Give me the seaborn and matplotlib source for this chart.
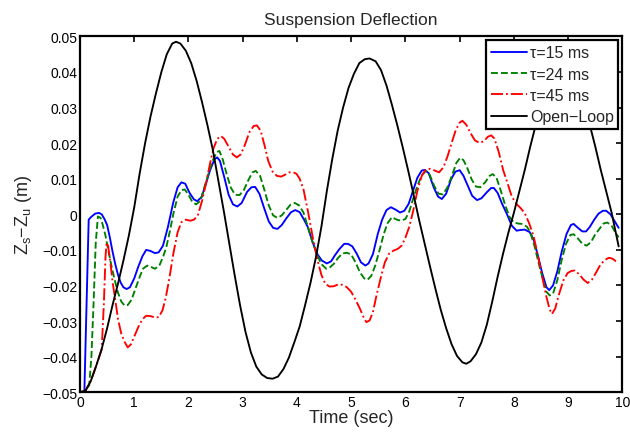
import numpy as np
import pandas as pd
import matplotlib
matplotlib.use('Agg')
import matplotlib.pyplot as plt
import seaborn as sns

# ---- data (deflection in mm, time in sec) ----
t_open = [0.00, 0.10, 0.20, 0.30, 0.40, 0.50, 0.60, 0.70, 0.80, 0.90, 1.00, 1.10, 1.20, 1.30, 1.40,
          1.50, 1.60, 1.70, 1.77, 1.85, 1.95, 2.05, 2.15, 2.25, 2.35, 2.45, 2.55, 2.65, 2.75, 2.85,
          2.95, 3.05, 3.15, 3.25, 3.35, 3.45, 3.55, 3.65, 3.75, 3.85, 3.95, 4.05, 4.15, 4.25, 4.35,
          4.45, 4.55, 4.65, 4.75, 4.85, 4.95, 5.05, 5.15, 5.25, 5.34, 5.45, 5.55, 5.65, 5.75, 5.85,
          5.95, 6.05, 6.15, 6.25, 6.35, 6.45, 6.55, 6.65, 6.75, 6.85, 6.95, 7.05, 7.12, 7.20, 7.30,
          7.40, 7.50, 7.60, 7.70, 7.80, 7.90, 8.00, 8.10, 8.20, 8.30, 8.40, 8.50, 8.60, 8.70, 8.80,
          8.90, 9.00, 9.10, 9.20, 9.30, 9.40, 9.50, 9.60, 9.70, 9.80, 9.93]
z_open = [-50.0, -49.6, -46.8, -42.5, -37.8, -32.0, -25.5, -19.5, -13.0, -6.0, 2.0, 11.5, 20.0, 27.5, 34.0,
          40.0, 45.0, 48.0, 48.5, 48.0, 46.0, 42.5, 37.5, 31.5, 25.0, 18.0, 9.5, 1.0, -8.0, -17.0,
          -25.5, -33.0, -38.8, -42.8, -45.0, -46.0, -46.2, -45.6, -43.5, -40.3, -36.0, -31.5, -25.5, -19.2, -12.0,
          -3.5, 6.5, 15.5, 23.5, 30.0, 35.5, 39.5, 42.5, 43.6, 43.8, 43.0, 40.5, 36.2, 30.8, 25.0,
          18.8, 12.3, 5.5, -1.5, -8.0, -14.5, -20.8, -26.8, -32.0, -36.5, -39.8, -41.6, -42.0, -41.3, -39.3,
          -36.0, -31.0, -24.5, -17.5, -11.0, -5.0, 0.5, 6.5, 12.5, 19.0, 25.0, 30.5, 35.0, 38.0, 39.7,
          40.0, 39.5, 38.0, 35.0, 30.5, 25.0, 19.0, 12.5, 6.5, 0.5, -9.0]

t_15 = [0.00, 0.08, 0.16, 0.20, 0.28, 0.35, 0.40, 0.45, 0.50, 0.55, 0.60, 0.65, 0.70, 0.75, 0.80,
        0.86, 0.92, 1.00, 1.07, 1.15, 1.22, 1.30, 1.38, 1.45, 1.53, 1.62, 1.72, 1.80, 1.87, 1.94,
        2.02, 2.10, 2.16, 2.24, 2.32, 2.40, 2.48, 2.53, 2.58, 2.66, 2.74, 2.82, 2.90, 2.98, 3.08,
        3.16, 3.23, 3.31, 3.40, 3.48, 3.56, 3.64, 3.72, 3.80, 3.89, 3.97, 4.05, 4.13, 4.20, 4.29,
        4.38, 4.46, 4.55, 4.63, 4.70, 4.78, 4.87, 4.94, 5.02, 5.10, 5.18, 5.26, 5.32, 5.40, 5.49,
        5.57, 5.65, 5.73, 5.82, 5.90, 5.98, 6.06, 6.13, 6.22, 6.30, 6.36, 6.43, 6.52, 6.60, 6.67,
        6.75, 6.84, 6.92, 7.00, 7.07, 7.15, 7.23, 7.32, 7.40, 7.50, 7.58, 7.63, 7.70, 7.78, 7.87,
        7.96, 8.05, 8.12, 8.20, 8.29, 8.36, 8.44, 8.52, 8.60, 8.65, 8.72, 8.80, 8.88, 8.97, 9.05,
        9.10, 9.18, 9.26, 9.33, 9.40, 9.48, 9.56, 9.64, 9.70, 9.78, 9.86, 9.93]
z_15 = [-50.0, -50.0, -1.5, -0.8, 0.2, 0.4, 0.0, -1.3, -3.0, -6.5, -10.5, -14.0, -17.0, -19.2, -20.5,
        -21.0, -20.5, -18.0, -14.9, -11.8, -10.0, -10.3, -10.9, -10.7, -8.8, -3.6, 3.4, 7.6, 9.0, 8.6,
        6.0, 4.2, 3.7, 4.8, 8.5, 12.5, 15.5, 16.0, 15.0, 10.4, 5.5, 2.8, 2.2, 3.2, 6.3,
        7.6, 7.7, 5.7, 1.5, -2.0, -3.8, -4.1, -3.0, -1.2, 0.6, 1.2, 0.6, -1.5, -3.6, -7.9,
        -11.3, -13.0, -13.8, -13.2, -11.5, -9.8, -8.3, -8.3, -9.0, -11.0, -13.5, -14.4, -13.8, -11.2, -5.5,
        -1.5, 1.2, 2.0, 1.3, 0.5, 1.0, 3.0, 6.2, 10.3, 12.3, 12.5, 11.5, 7.6, 5.0, 4.3,
        5.8, 9.8, 12.0, 12.4, 10.8, 8.0, 5.2, 4.0, 4.5, 6.2, 7.4, 7.4, 6.0, 3.0, 0.1,
        -3.2, -4.6, -4.4, -4.3, -5.0, -7.0, -11.5, -16.5, -20.5, -21.3, -20.0, -16.0, -10.5, -5.5, -3.0,
        -2.7, -3.8, -4.8, -4.8, -3.5, -1.5, 0.2, 1.0, 1.0, 0.0, -2.0, -3.8]

t_24 = [0.00, 0.10, 0.17, 0.21, 0.25, 0.29, 0.33, 0.38, 0.42, 0.47, 0.52, 0.58, 0.64, 0.70, 0.76,
        0.82, 0.88, 0.95, 1.02, 1.09, 1.16, 1.24, 1.31, 1.38, 1.46, 1.53, 1.59, 1.66, 1.72, 1.80,
        1.87, 1.93, 2.00, 2.07, 2.14, 2.22, 2.30, 2.38, 2.45, 2.52, 2.57, 2.63, 2.70, 2.78, 2.86,
        2.94, 3.02, 3.10, 3.18, 3.24, 3.32, 3.40, 3.48, 3.56, 3.64, 3.72, 3.80, 3.88, 3.96, 4.04,
        4.12, 4.20, 4.28, 4.36, 4.45, 4.54, 4.60, 4.68, 4.76, 4.84, 4.92, 5.00, 5.08, 5.16, 5.24,
        5.30, 5.37, 5.44, 5.52, 5.60, 5.67, 5.75, 5.84, 5.92, 6.00, 6.07, 6.14, 6.22, 6.30, 6.38,
        6.45, 6.53, 6.61, 6.69, 6.77, 6.86, 6.94, 7.01, 7.07, 7.14, 7.22, 7.30, 7.38, 7.47, 7.55,
        7.61, 7.68, 7.76, 7.84, 7.92, 8.00, 8.08, 8.16, 8.24, 8.30, 8.38, 8.46, 8.54, 8.60, 8.66,
        8.72, 8.80, 8.88, 8.96, 9.04, 9.10, 9.18, 9.26, 9.34, 9.42, 9.50, 9.58, 9.65, 9.72, 9.80,
        9.88, 9.93]
z_24 = [-50.0, -49.6, -48.0, -40.0, -25.0, -8.0, -0.6, -1.0, -3.0, -6.0, -10.0, -14.5, -18.5, -22.0, -24.5,
        -25.6, -25.5, -24.0, -21.0, -18.0, -15.3, -14.4, -14.8, -15.3, -14.5, -12.0, -9.3, -4.5, 0.1, 5.0,
        6.8, 7.0, 5.5, 3.5, 2.8, 3.8, 8.0, 12.0, 15.2, 17.5, 17.8, 15.5, 11.5, 7.5, 5.5,
        5.4, 6.8, 9.5, 11.8, 12.2, 10.8, 6.8, 2.5, -0.3, -1.0, -0.3, 1.2, 2.7, 3.2, 2.5,
        0.5, -3.5, -7.5, -11.0, -14.0, -15.3, -15.0, -13.9, -12.2, -11.0, -10.8, -11.3, -13.5, -16.3, -18.0,
        -18.4, -17.3, -14.5, -10.2, -5.5, -2.5, -0.8, -1.5, -1.8, -1.3, 0.8, 4.3, 8.0, 11.0, 12.2,
        11.0, 8.0, 5.8, 5.6, 7.5, 11.0, 14.5, 15.9, 15.2, 13.0, 9.8, 7.8, 7.6, 9.0, 10.8,
        11.3, 10.2, 6.5, 2.5, -0.8, -2.3, -2.6, -2.7, -3.5, -5.0, -9.0, -14.0, -18.6, -21.8, -22.8,
        -22.3, -18.5, -12.8, -8.3, -5.8, -5.6, -6.8, -8.3, -8.8, -7.8, -5.6, -4.0, -2.6, -2.3, -3.2,
        -5.3, -6.5]

t_45 = [0.00, 0.10, 0.20, 0.30, 0.40, 0.44, 0.47, 0.49, 0.52, 0.56, 0.60, 0.65, 0.70, 0.76, 0.82,
        0.88, 0.94, 1.01, 1.08, 1.15, 1.22, 1.30, 1.38, 1.45, 1.52, 1.58, 1.64, 1.72, 1.80, 1.87,
        1.95, 2.03, 2.10, 2.17, 2.25, 2.32, 2.40, 2.46, 2.53, 2.60, 2.66, 2.74, 2.82, 2.89, 2.96,
        3.04, 3.12, 3.20, 3.26, 3.33, 3.40, 3.47, 3.55, 3.63, 3.71, 3.79, 3.86, 3.93, 3.99, 4.05,
        4.12, 4.20, 4.29, 4.38, 4.45, 4.52, 4.60, 4.68, 4.76, 4.84, 4.92, 5.00, 5.08, 5.16, 5.23,
        5.28, 5.34, 5.40, 5.47, 5.55, 5.62, 5.70, 5.78, 5.86, 5.93, 6.00, 6.07, 6.14, 6.22, 6.30,
        6.37, 6.45, 6.54, 6.62, 6.70, 6.78, 6.86, 6.93, 7.00, 7.05, 7.12, 7.20, 7.28, 7.36, 7.44,
        7.52, 7.58, 7.64, 7.72, 7.80, 7.88, 7.96, 8.04, 8.12, 8.20, 8.28, 8.36, 8.44, 8.52, 8.60,
        8.66, 8.70, 8.76, 8.83, 8.91, 8.99, 9.06, 9.12, 9.20, 9.28, 9.36, 9.44, 9.52, 9.60, 9.68,
        9.75, 9.82, 9.88, 9.93]
z_45 = [-50.0, -49.6, -46.8, -42.5, -38.0, -25.0, -12.0, -7.9, -9.0, -13.5, -19.0, -24.0, -29.4, -33.5, -35.8,
        -37.4, -36.5, -34.0, -31.5, -29.5, -28.5, -28.6, -29.0, -28.9, -27.0, -23.5, -18.6, -11.1, -5.0, -2.2,
        -1.5, -1.8, -1.5, -0.4, 3.8, 8.5, 14.5, 18.5, 21.2, 22.0, 21.2, 19.0, 16.8, 16.0, 16.8,
        19.5, 23.0, 24.8, 25.0, 23.5, 19.5, 15.0, 12.0, 10.8, 10.6, 11.2, 11.8, 11.8, 11.4, 10.0,
        7.0, 1.0, -6.4, -13.0, -17.0, -19.5, -20.3, -20.2, -19.7, -19.8, -20.5, -21.8, -24.0, -26.5, -29.0,
        -30.3, -29.8, -27.5, -22.5, -17.5, -13.5, -11.0, -10.2, -9.7, -8.8, -6.5, -3.5, 0.8, 6.6, 10.8,
        12.5, 12.8, 12.3, 11.8, 13.2, 16.5, 20.5, 23.8, 25.8, 26.3, 25.2, 22.8, 20.8, 20.1, 20.5,
        21.8, 22.2, 21.3, 17.5, 12.5, 8.8, 5.0, 3.0, 1.8, 0.3, -2.5, -6.0, -11.5, -17.5, -23.3,
        -26.8, -28.0, -26.5, -22.5, -18.6, -16.5, -15.9, -15.8, -16.8, -18.3, -19.3, -18.3, -16.2, -14.0, -12.8,
        -12.2, -12.5, -13.2, -13.6]

x_ticks = list(range(0, 11))
y_ticks = [-0.05, -0.04, -0.03, -0.02, -0.01, 0.0, 0.01, 0.02, 0.03, 0.04, 0.05]
y_ticklabels = ['\u22120.05', '\u22120.04', '\u22120.03', '\u22120.02', '\u22120.01', '0',
                '0.01', '0.02', '0.03', '0.04', '0.05']

series = [
    (t_15, z_15, '\u03c4=15 ms', '#0000ff', '-'),
    (t_24, z_24, '\u03c4=24 ms', '#008000', '--'),
    (t_45, z_45, '\u03c4=45 ms', '#ff0000', '-.'),
    (t_open, z_open, 'Open\u2212Loop', '#000000', '-'),
]

sns.set_theme(style='white')
plt.rcParams['font.family'] = ['Liberation Sans', 'DejaVu Sans']
plt.rcParams['mathtext.fontset'] = 'custom'
plt.rcParams['mathtext.rm'] = 'Liberation Sans'
plt.rcParams['mathtext.it'] = 'Liberation Sans'

fig = plt.figure(figsize=(6.3, 4.35), dpi=100)
ax = fig.add_axes([0.127, 0.096, 0.861, 0.818])

for t, z, name, col, ls in series:
    df = pd.DataFrame({'t': t, 'z': np.array(z) / 1000.0})
    sns.lineplot(data=df, x='t', y='z', ax=ax, color=col, linestyle=ls,
                 linewidth=1.35, label=name, sort=False, estimator=None)

ax.set_xlim(0, 10)
ax.set_ylim(-0.05, 0.05)
ax.set_xticks(x_ticks)
ax.set_xticklabels([str(v) for v in x_ticks])
ax.set_yticks(y_ticks)
ax.set_yticklabels(y_ticklabels)
ax.tick_params(direction='in', length=4, width=1.2, top=True, right=True,
               labelsize=10, colors='black', pad=2)
for sp in ax.spines.values():
    sp.set_color('black')
    sp.set_linewidth(1.6)

ax.set_title('Suspension Deflection', fontsize=12.5, pad=9)
ax.set_xlabel('Time (sec)', fontsize=13, labelpad=0)
ax.set_ylabel('Z$_{\\mathrm{s}}$\u2212Z$_{\\mathrm{u}}$ (m)', fontsize=13, labelpad=6)

leg = ax.legend(loc='upper right', fontsize=11.5, frameon=True, fancybox=False,
                edgecolor='black', framealpha=1.0, borderaxespad=0.25,
                handlelength=2.3, handletextpad=0.15, labelspacing=0.4,
                borderpad=0.3)
leg.get_frame().set_linewidth(1.6)

fig.savefig('out.png', dpi=100, facecolor='white')
